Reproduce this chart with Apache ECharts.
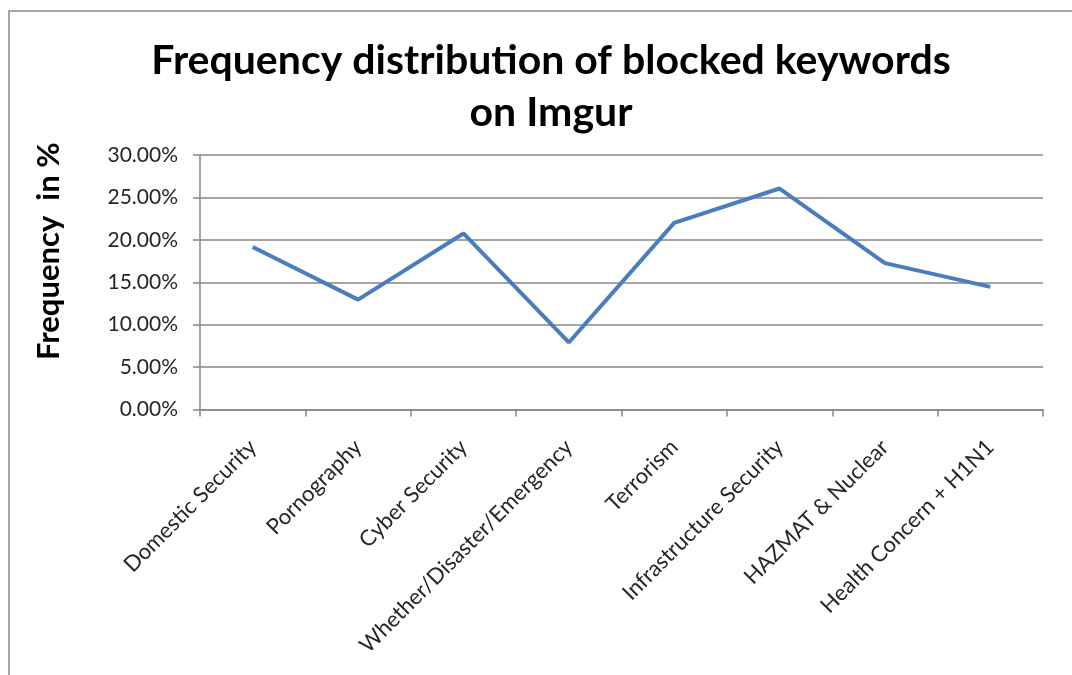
<!DOCTYPE html>
<html>
<head>
<meta charset="utf-8">
<script src="https://cdn.jsdelivr.net/npm/echarts@6/dist/echarts.min.js"></script>
<style>
  html, body { margin: 0; padding: 0; background: #fff; }
  #main { width: 1072px; height: 675px; position: relative; }
  #frame {
    position: absolute; left: 8px; top: 10px; right: -5px; bottom: -5px;
    border-top: 2px solid #a6a6a6; border-left: 2px solid #a6a6a6;
    pointer-events: none;
  }
</style>
</head>
<body>
<div id="main"></div>
<div id="frame"></div>
<script>
// keyword categories (x axis)
var categories = [
  'Domestic Security', 'Pornography', 'Cyber Security', 'Whether/Disaster/Emergency',
  'Terrorism', 'Infrastructure Security', 'HAZMAT & Nuclear', 'Health Concern + H1N1'
]
// frequency in percent
var frequency = [19.15, 12.95, 20.75, 7.9, 22.0, 26.05, 17.25, 14.45]
var yTicks = [0, 5, 10, 15, 20, 25, 30]

var myChart = echarts.init(document.getElementById('main'))
myChart.setOption({
  backgroundColor: '#fff',
  animation: false,
  title: {
    text: 'Frequency distribution of blocked keywords\non Imgur',
    left: 546,
    top: 30,
    textAlign: 'center',
    textStyle: {
      fontFamily: 'Lato',
      fontWeight: 'bold',
      fontSize: 41,
      lineHeight: 52,
      color: '#000'
    }
  },
  grid: { left: 200, right: 29, top: 155, bottom: 265.5 },
  xAxis: {
    type: 'category',
    data: categories,
    boundaryGap: true,
    axisLine: { lineStyle: { color: '#868686', width: 1.5 } },
    axisTick: { show: true, length: 7, lineStyle: { color: '#868686', width: 1.5 } },
    axisLabel: {
      rotate: 45,
      margin: 34,
      interval: 0,
      fontFamily: 'Lato',
      fontSize: 22,
      color: '#262626'
    }
  },
  yAxis: {
    type: 'value',
    min: yTicks[0],
    max: yTicks[yTicks.length - 1],
    interval: 5,
    name: 'Frequency  in %',
    nameLocation: 'middle',
    nameGap: 136,
    nameRotate: 90,
    nameTextStyle: {
      fontFamily: 'Lato',
      fontWeight: 'bold',
      fontSize: 31,
      color: '#000',
      padding: [0, 0, 0, 62]
    },
    axisLine: { show: true, lineStyle: { color: '#868686', width: 1.5 } },
    axisTick: { show: true, length: 7, lineStyle: { color: '#868686', width: 1.5 } },
    splitLine: { lineStyle: { color: '#868686', width: 1.5 } },
    axisLabel: {
      margin: 22,
      fontFamily: 'Lato',
      fontSize: 21,
      color: '#262626',
      formatter: function (v) { return v.toFixed(2) + '%' }
    }
  },
  series: [
    {
      name: 'Frequency',
      type: 'line',
      data: frequency,
      showSymbol: false,
      symbol: 'none',
      lineStyle: { color: '#4a7ebb', width: 4 },
      itemStyle: { color: '#4a7ebb' }
    }
  ]
})
</script>
</body>
</html>
